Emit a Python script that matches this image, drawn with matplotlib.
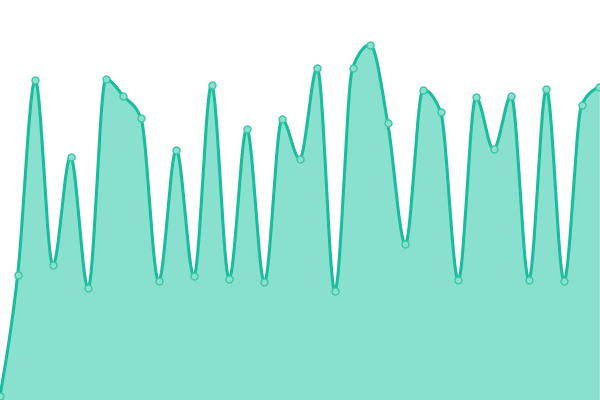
import numpy as np
import matplotlib
matplotlib.use("Agg")
import matplotlib.pyplot as plt

# values (0-100 scale, 0 = bottom edge)
idx = list(range(35))
values = [1, 31.2, 80, 33.7, 60.8, 28, 80.2, 76, 70.4, 29.7,
          62.6, 31, 78.8, 30.3, 67.8, 29.4, 70.2, 60.3, 83, 27.2,
          83, 88.8, 69.2, 39, 77.6, 72, 30, 75.7, 62.7, 76,
          30, 77.7, 29.8, 73.8, 78.3]

LINE = "#1abc9c"
FILL = "#8ae0cf"


def monotone_x(x, y, n=40):
    # same slopes as d3.curveMonotoneX, then hermite segments
    x = np.asarray(x, float)
    y = np.asarray(y, float)
    h = np.diff(x)
    s = np.diff(y) / h
    t = np.zeros_like(y)
    for i in range(1, len(y) - 1):
        h0, h1 = h[i - 1], h[i]
        s0, s1 = s[i - 1], s[i]
        p = (s0 * h1 + s1 * h0) / (h0 + h1)
        t[i] = (np.sign(s0) + np.sign(s1)) * min(abs(s0), abs(s1), 0.5 * abs(p))
    t[0] = (3 * s[0] - t[1]) / 2
    t[-1] = (3 * s[-1] - t[-2]) / 2
    xs, ys = [], []
    for i in range(len(y) - 1):
        u = np.linspace(0, 1, n, endpoint=False)
        h00 = 2 * u**3 - 3 * u**2 + 1
        h10 = u**3 - 2 * u**2 + u
        h01 = -2 * u**3 + 3 * u**2
        h11 = u**3 - u**2
        xs.append(x[i] + u * h[i])
        ys.append(h00 * y[i] + h10 * h[i] * t[i] + h01 * y[i + 1] + h11 * h[i] * t[i + 1])
    xs.append([x[-1]])
    ys.append([y[-1]])
    return np.concatenate(xs), np.concatenate(ys)


fig = plt.figure(figsize=(6, 4), dpi=100)
ax = fig.add_axes([0, 0, 1, 1])

sx, sy = monotone_x(idx, values)
ax.fill_between(sx, 0, sy, color=FILL, lw=0)
ax.plot(sx, sy, color=LINE, lw=2.2, solid_capstyle="round")
ax.plot(idx, values, "o", ms=5, mfc=FILL, mec="#3cc7a6", mew=1, zorder=3)

ax.set_xlim(0, 34.04)
ax.set_ylim(0, 100)
plt.axis('off')
plt.savefig("out.png", dpi=100)
plt.close()
